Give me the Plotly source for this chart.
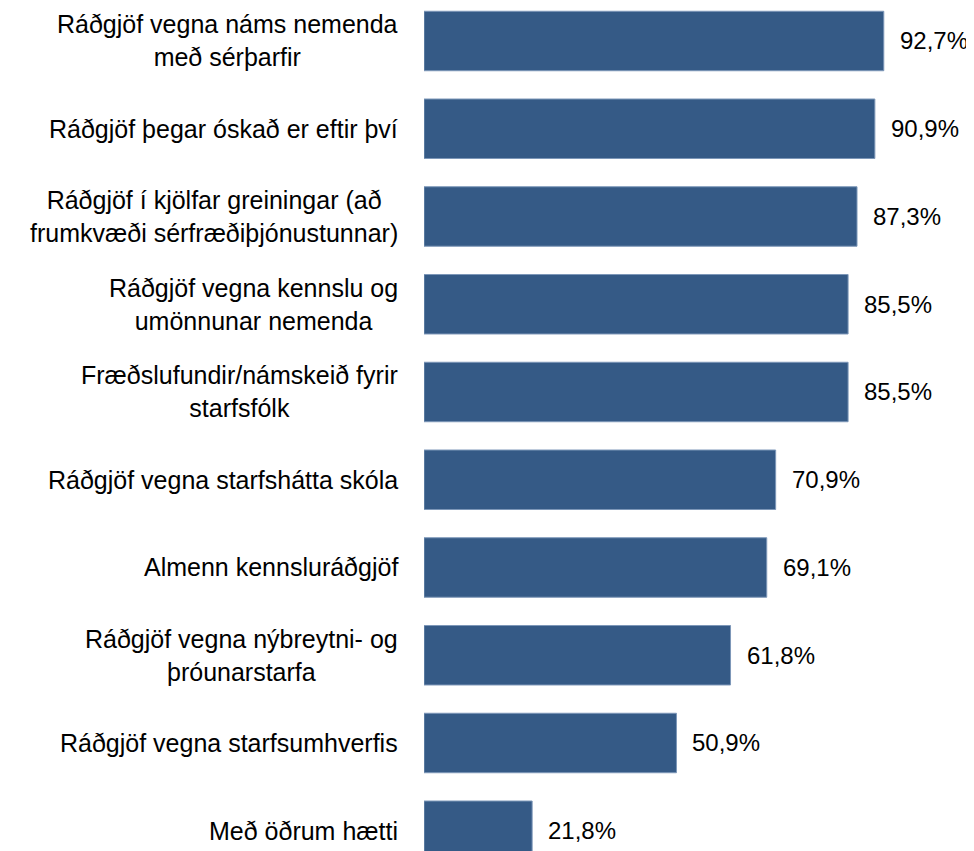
import plotly.graph_objects as go

categories = [
    "Ráðgjöf vegna náms nemenda<br>með sérþarfir",
    "Ráðgjöf þegar óskað er eftir því",
    "Ráðgjöf í kjölfar greiningar (að<br>frumkvæði sérfræðiþjónustunnar)",
    "Ráðgjöf vegna kennslu og<br>umönnunar nemenda",
    "Fræðslufundir/námskeið fyrir<br>starfsfólk",
    "Ráðgjöf vegna starfshátta skóla",
    "Almenn kennsluráðgjöf",
    "Ráðgjöf vegna nýbreytni- og<br>þróunarstarfa",
    "Ráðgjöf vegna starfsumhverfis",
    "Með öðrum hætti",
]
values = [92.7, 90.9, 87.3, 85.5, 85.5, 70.9, 69.1, 61.8, 50.9, 21.8]
value_labels = [f"{v:.1f}%".replace(".", ",") for v in values]

FONT = "Liberation Sans"
idx = list(range(len(categories)))

fig = go.Figure()
fig.add_trace(go.Bar(
    x=values,
    y=idx,
    orientation="h",
    marker=dict(color="#355a86", line=dict(color="#7d97b8", width=1)),
    hoverinfo="skip",
))

annotations = []
for i, (cat, v, lab) in enumerate(zip(categories, values, value_labels)):
    annotations.append(dict(
        x=0, xref="paper", y=i, yref="y", text=cat, showarrow=False,
        xanchor="right", yanchor="middle", align="center", xshift=-24,
        font=dict(family=FONT, size=25, color="#000000"),
    ))
    annotations.append(dict(
        x=v, xref="x", y=i, yref="y", text=lab, showarrow=False,
        xanchor="left", yanchor="middle", xshift=14,
        font=dict(family=FONT, size=24, color="#000000"),
    ))

fig.update_layout(
    width=974, height=851,
    margin=dict(l=416, r=0, t=0, b=0),
    paper_bgcolor="white", plot_bgcolor="white",
    bargap=0.322,
    showlegend=False,
    annotations=annotations,
    xaxis=dict(range=[0, 112.5], visible=False, fixedrange=True),
    yaxis=dict(range=[9.322, -0.376], visible=False, fixedrange=True),
)

fig.write_html("out.html")
